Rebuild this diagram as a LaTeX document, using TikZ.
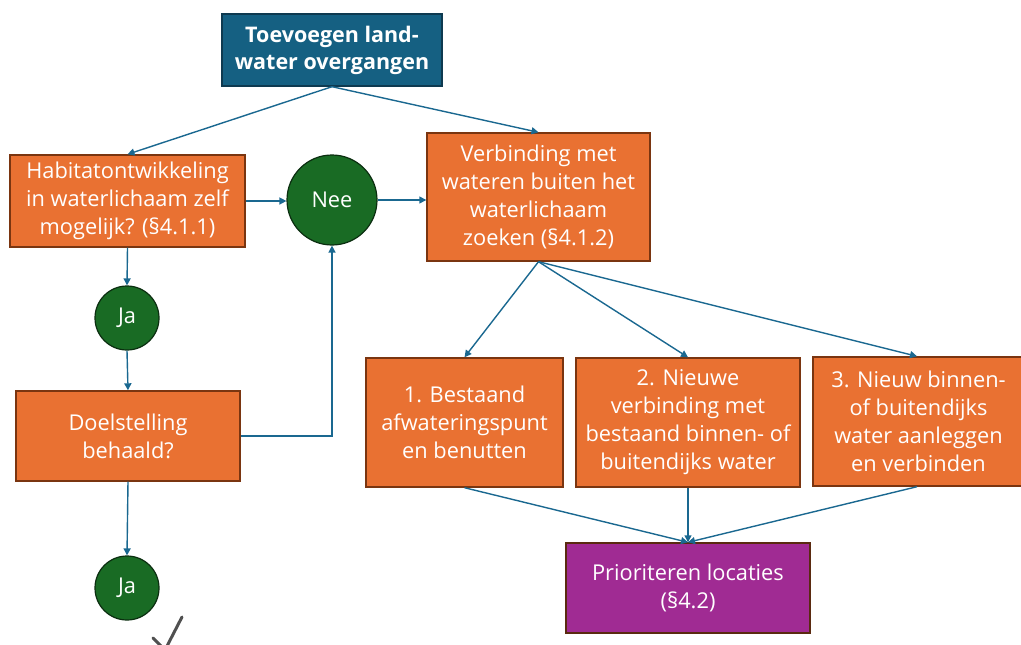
\documentclass[tikz,border=0pt]{standalone}
\usepackage{fontspec}
\setmainfont{Open Sans}
\usetikzlibrary{arrows.meta}
\definecolor{orangebox}{HTML}{E97132}
\definecolor{orangeedge}{HTML}{7A3510}
\definecolor{bluebox}{HTML}{156082}
\definecolor{blueedge}{HTML}{0E3A50}
\definecolor{greenbox}{HTML}{196B24}
\definecolor{greenedge}{HTML}{0B2E10}
\definecolor{purplebox}{HTML}{A02B93}
\definecolor{purpleedge}{HTML}{5A2A10}
\definecolor{flow}{HTML}{1A6890}
\definecolor{tick}{HTML}{505050}
\tikzset{
  x=1pt, y=-1pt,
  txt/.style={text=white, align=center, font=\fontsize{21.8}{28}\selectfont, inner sep=0pt},
  stepbox/.style={txt, draw=orangeedge, fill=orangebox, line width=1.4pt},
  titlebox/.style={txt, draw=blueedge, fill=bluebox, line width=1.4pt,
    font=\fontsize{21.5}{27}\selectfont\bfseries},
  answer/.style={txt, circle, draw=greenedge, fill=greenbox, line width=1.2pt},
  resultbox/.style={txt, draw=purpleedge, fill=purplebox, line width=1.4pt},
  flowline/.style={draw=flow, line width=1.4pt, -{Triangle[length=7pt,width=7pt]}}
}
\begin{document}
\begin{tikzpicture}
\useasboundingbox (0,0) rectangle (1021,645);
\clip (0,0) rectangle (1021,645);

\node[titlebox, minimum width=220, minimum height=72] (top) at (332,50)
  {Toevoegen land-\\water overgangen};
\node[stepbox, minimum width=235, minimum height=92] (hab) at (127.5,201)
  {Habitatontwikkeling\\in waterlichaam zelf\\mogelijk? (§4.1.1)};
\node[answer, minimum size=90] (nee) at (332,200) {Nee};
\node[stepbox, minimum width=223, minimum height=128] (verb) at (538.5,197)
  {Verbinding met\\wateren buiten het\\waterlichaam\\zoeken (§4.1.2)};
\node[answer, minimum size=64] (ja1) at (127,318) {Ja};
\node[stepbox, minimum width=224, minimum height=90] (doel) at (128,436)
  {Doelstelling\\behaald?};
\node[answer, minimum size=64] (ja2) at (127,588) {Ja};
\node[stepbox, minimum width=197, minimum height=129] (b1) at (464.5,422.5)
  {1. Bestaand\\afwateringspunt\\en benutten};
\node[stepbox, minimum width=224, minimum height=129] (b2) at (688,422.5)
  {2. Nieuwe\\verbinding met\\bestaand binnen- of\\buitendijks water};
\node[stepbox, minimum width=211, minimum height=129] (b3) at (918.5,421.5)
  {3. Nieuw binnen-\\of buitendijks\\water aanleggen\\en verbinden};
\node[resultbox, minimum width=244, minimum height=90] (prio) at (688,588)
  {Prioriteren locaties\\(§4.2)};

\draw[flowline] (top.south) -- (hab.north);
\draw[flowline] (top.south) -- (verb.north);
\draw[flowline] (hab.east) -- (hab.east -| nee.west);
\draw[flowline] (nee.east) -- (nee.east -| verb.west);
\draw[flowline] (hab.south) -- (ja1.north);
\draw[flowline] (ja1.south) -- (doel.north);
\draw[flowline] (doel.east) -| (nee.south);
\draw[flowline] (doel.south) -- (ja2.north);
\draw[flowline] (verb.south) -- (b1.north);
\draw[flowline] (verb.south) -- (b2.north);
\draw[flowline] (verb.south) -- ([xshift=-1.5pt]b3.north);
\draw[flowline] (b1.south) -- (prio.north);
\draw[flowline] (b2.south) -- (prio.north);
\draw[flowline] ([xshift=-1.5pt]b3.south) -- (prio.north);

% hand-drawn tick below the last answer
\draw[tick, line width=3pt, line cap=round, line join=round]
  (153,638) -- (165,650) -- (182,617);
\end{tikzpicture}
\end{document}
